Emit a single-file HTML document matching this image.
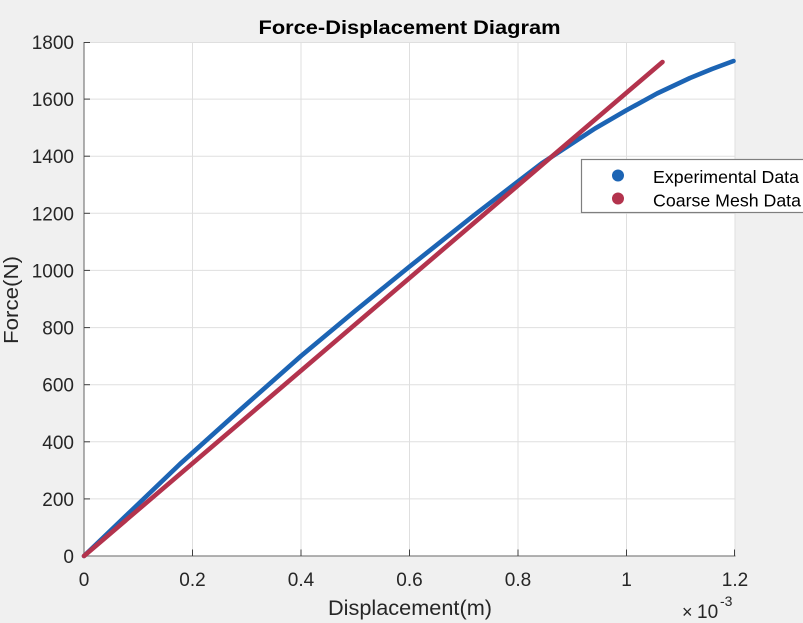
<!DOCTYPE html>
<html>
<head>
<meta charset="utf-8">
<style>
  html, body { margin: 0; padding: 0; background: #f0f0f0; }
  body { width: 803px; height: 623px; overflow: hidden; }
  svg { display: block; }
  text { font-family: "Liberation Sans", Arial, Helvetica, sans-serif; }
</style>
</head>
<body>
<svg width="803" height="623" viewBox="0 0 803 623" xmlns="http://www.w3.org/2000/svg">
  <rect x="0" y="0" width="803" height="623" fill="#f0f0f0"/>
  <!-- axes area -->
  <rect x="84" y="42" width="651" height="514" fill="#ffffff"/>

  <!-- grid -->
  <g stroke="#dfdfdf" stroke-width="1">
    <line x1="192.5" y1="42" x2="192.5" y2="556"/>
    <line x1="301" y1="42" x2="301" y2="556"/>
    <line x1="409.5" y1="42" x2="409.5" y2="556"/>
    <line x1="518" y1="42" x2="518" y2="556"/>
    <line x1="626.5" y1="42" x2="626.5" y2="556"/>
    <line x1="735" y1="42" x2="735" y2="556"/>
    <line x1="84" y1="498.9" x2="735" y2="498.9"/>
    <line x1="84" y1="441.8" x2="735" y2="441.8"/>
    <line x1="84" y1="384.7" x2="735" y2="384.7"/>
    <line x1="84" y1="327.6" x2="735" y2="327.6"/>
    <line x1="84" y1="270.4" x2="735" y2="270.4"/>
    <line x1="84" y1="213.3" x2="735" y2="213.3"/>
    <line x1="84" y1="156.2" x2="735" y2="156.2"/>
    <line x1="84" y1="99.1" x2="735" y2="99.1"/>
    <line x1="84" y1="42.5" x2="735" y2="42.5"/>
  </g>

  <!-- axis lines -->
  <g stroke="#858585" stroke-width="1.3" fill="none">
    <line x1="84" y1="42" x2="84" y2="556.5"/>
    <line x1="83.5" y1="556" x2="735.5" y2="556"/>
  </g>
  <!-- ticks -->
  <g stroke="#404040" stroke-width="1">
    <line x1="84" y1="498.9" x2="90" y2="498.9"/>
    <line x1="84" y1="441.8" x2="90" y2="441.8"/>
    <line x1="84" y1="384.7" x2="90" y2="384.7"/>
    <line x1="84" y1="327.6" x2="90" y2="327.6"/>
    <line x1="84" y1="270.4" x2="90" y2="270.4"/>
    <line x1="84" y1="213.3" x2="90" y2="213.3"/>
    <line x1="84" y1="156.2" x2="90" y2="156.2"/>
    <line x1="84" y1="99.1" x2="90" y2="99.1"/>
    <line x1="84" y1="42.5" x2="90" y2="42.5"/>
    <line x1="192.5" y1="556" x2="192.5" y2="549.5"/>
    <line x1="301" y1="556" x2="301" y2="549.5"/>
    <line x1="409.5" y1="556" x2="409.5" y2="549.5"/>
    <line x1="518" y1="556" x2="518" y2="549.5"/>
    <line x1="626.5" y1="556" x2="626.5" y2="549.5"/>
    <line x1="734.5" y1="556" x2="734.5" y2="549.5"/>
  </g>

  <!-- data -->
  <polyline fill="none" stroke="#1c64b4" stroke-width="4.6" stroke-linecap="round" stroke-linejoin="round"
    points="84,556 132,510 180,464 240,410 301,356 355,311 409,267 475,214.5 541.7,163.3 595,128.5 626,110.5 657,93.5 690,78 712,69 733.5,61"/>
  <line x1="84" y1="556" x2="662.5" y2="62" stroke="#b3334d" stroke-width="4.6" stroke-linecap="round"/>

  <!-- y tick labels -->
  <g font-size="19" fill="#262626" text-anchor="end">
    <text x="74" y="563">0</text>
    <text x="74" y="505.9">200</text>
    <text x="74" y="448.8">400</text>
    <text x="74" y="391.7">600</text>
    <text x="74" y="334.6">800</text>
    <text x="74" y="277.4">1000</text>
    <text x="74" y="220.3">1200</text>
    <text x="74" y="163.2">1400</text>
    <text x="74" y="106.1">1600</text>
    <text x="74" y="49">1800</text>
  </g>
  <!-- x tick labels -->
  <g font-size="19" fill="#262626" text-anchor="middle">
    <text x="84" y="586">0</text>
    <text x="192.5" y="586">0.2</text>
    <text x="301" y="586">0.4</text>
    <text x="409.5" y="586">0.6</text>
    <text x="518" y="586">0.8</text>
    <text x="626.5" y="586">1</text>
    <text x="735" y="586">1.2</text>
  </g>
  <!-- exponent -->
  <g fill="#262626">
    <text x="682" y="618" font-size="18">×</text>
    <text x="697" y="618" font-size="19">10</text>
    <text x="720" y="606" font-size="14">-3</text>
  </g>

  <!-- axis labels -->
  <text x="410" y="615" font-size="21" fill="#262626" text-anchor="middle" textLength="164" lengthAdjust="spacingAndGlyphs">Displacement(m)</text>
  <text transform="translate(18,300) rotate(-90)" x="0" y="0" font-size="20.5" fill="#262626" text-anchor="middle" textLength="88" lengthAdjust="spacingAndGlyphs">Force(N)</text>

  <!-- title -->
  <text x="409.5" y="34" font-size="19.5" font-weight="bold" fill="#000000" text-anchor="middle" textLength="302" lengthAdjust="spacingAndGlyphs">Force-Displacement Diagram</text>

  <!-- legend -->
  <rect x="581.5" y="159.5" width="240" height="53" fill="#ffffff" stroke="#7f7f7f" stroke-width="1.2"/>
  <circle cx="618" cy="175.5" r="6" fill="#1c64b4"/>
  <circle cx="618" cy="198.5" r="6" fill="#b3334d"/>
  <g font-size="17.5" fill="#000000">
    <text x="653" y="183" textLength="146" lengthAdjust="spacingAndGlyphs">Experimental Data</text>
    <text x="653" y="206.5" textLength="148" lengthAdjust="spacingAndGlyphs">Coarse Mesh Data</text>
  </g>
</svg>
</body>
</html>
